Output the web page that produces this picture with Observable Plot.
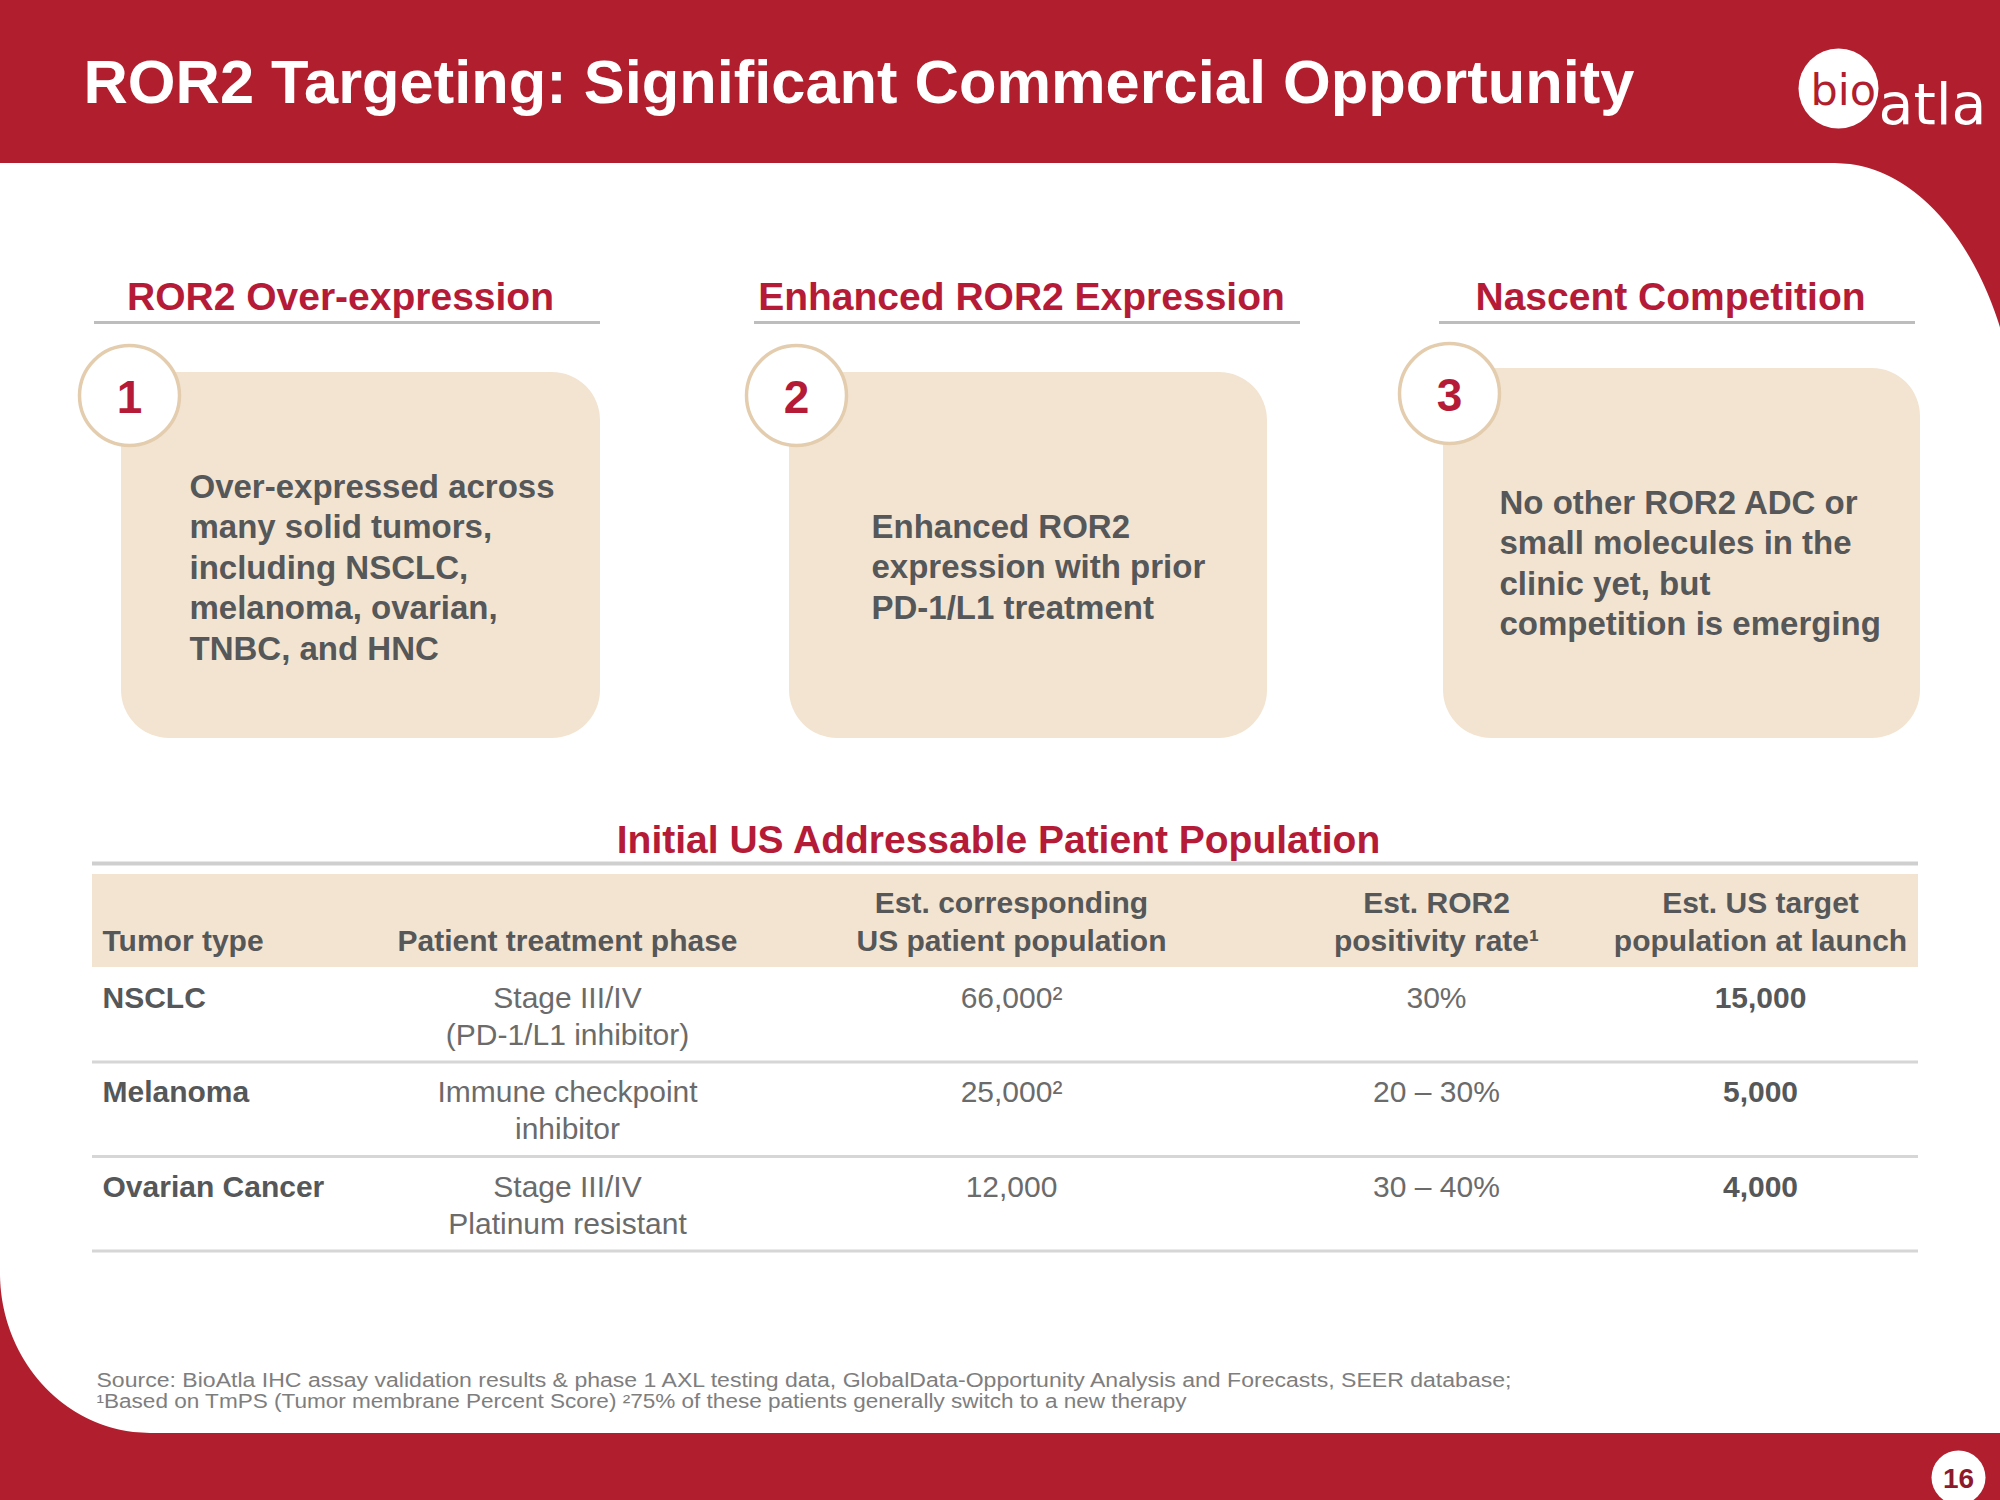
<!DOCTYPE html>
<html>
<head>
<meta charset="utf-8">
<script src="https://cdn.jsdelivr.net/npm/d3@7"></script>
<script src="https://cdn.jsdelivr.net/npm/@observablehq/plot@0.6"></script>
<style>
  html, body { margin: 0; padding: 0; background: #ffffff; }
  #chart svg { display: block; }
</style>
</head>
<body>
<div id="chart"></div>
<script>
// ---------------- DATA ----------------
const slideTitle = "ROR2 Targeting: Significant Commercial Opportunity";
const logoParts = ["bio", "atla"];
const pageNumber = "16";

const pillarHeaders = ["ROR2 Over-expression", "Enhanced ROR2 Expression", "Nascent Competition"];
const pillarNumbers = ["1", "2", "3"];
const pillarTexts = [
  ["Over-expressed across", "many solid tumors,", "including NSCLC,", "melanoma, ovarian,", "TNBC, and HNC"],
  ["Enhanced ROR2", "expression with prior", "PD-1/L1 treatment"],
  ["No other ROR2 ADC or", "small molecules in the", "clinic yet, but", "competition is emerging"]
];

const tableTitle = "Initial US Addressable Patient Population";
const columnHeaders = [
  ["Tumor type"],
  ["Patient treatment phase"],
  ["Est. corresponding", "US patient population"],
  ["Est. ROR2", "positivity rate\u00B9"],
  ["Est. US target", "population at launch"]
];
const tumorTypes = ["NSCLC", "Melanoma", "Ovarian Cancer"];
const treatmentPhases = [
  ["Stage III/IV", "(PD-1/L1 inhibitor)"],
  ["Immune checkpoint", "inhibitor"],
  ["Stage III/IV", "Platinum resistant"]
];
const usPatientPopulation = ["66,000\u00B2", "25,000\u00B2", "12,000"];
const ror2PositivityRate = ["30%", "20 \u2013 30%", "30 \u2013 40%"];
const usTargetPopulation = ["15,000", "5,000", "4,000"];

const footnoteLines = [
  "Source: BioAtla IHC assay validation results & phase 1 AXL testing data, GlobalData-Opportunity Analysis and Forecasts, SEER database;",
  "\u00B9Based on TmPS (Tumor membrane Percent Score) \u00B275% of these patients generally switch to a new therapy"
];

// ---------------- STYLE / LAYOUT ----------------
const W = 2000, H = 1500;
const RED = "#B11E2E";
const HEAD_RED = "#B51B37";
const BEIGE = "#F3E4D1";
const DARK = "#555759";
const BODY = "#6B6B6B";
const FONT = "'Liberation Sans', Arial, Helvetica, sans-serif";
const LOGO_FONT = "'DejaVu Sans', 'Liberation Sans', sans-serif";

const whiteTop = 163, whiteBottom = 1433;
function rightEdge(y) {
  const rx = 185, ry = 300, cx = 1835, cy = whiteTop + ry;
  if (y >= cy) return W;
  const t = (cy - y) / ry;
  return Math.min(W, cx + rx * Math.sqrt(Math.max(0, 1 - t * t)));
}
function leftEdge(y) {
  const rx = 150, ry = 160, cy = whiteBottom - ry;
  if (y <= cy) return 0;
  const t = (y - cy) / ry;
  return rx * (1 - Math.sqrt(Math.max(0, 1 - t * t)));
}
const framePts = d3.range(whiteTop, whiteBottom + 0.5, 1).map(y => ({y, x1: leftEdge(y), x2: rightEdge(y)}));

const pillarLayout = [
  {hx: 340,  ul: [94, 600],   bx: [121, 600],   top: 372, cx: 129,  cy: 395, tx: 189,  ty: 497},
  {hx: 1021, ul: [754, 1300], bx: [789, 1267],  top: 372, cx: 796,  cy: 395, tx: 871,  ty: 537},
  {hx: 1670, ul: [1439, 1915], bx: [1443, 1920], top: 368, cx: 1449, cy: 393, tx: 1499, ty: 513}
];
const boxBottom = 738, headerBaseline = 309, underlineY = 322, lineStep = 40.5;

const pillars = pillarHeaders.map((h, i) => ({header: h, number: pillarNumbers[i], ...pillarLayout[i]}));
const pillarLines = pillarTexts.flatMap((lines, i) =>
  lines.map((t, j) => ({text: t, x: pillarLayout[i].tx, y: pillarLayout[i].ty + j * lineStep})));

// table layout
const tblX1 = 92, tblX2 = 1918;
const titleY = 852, topRuleY = 863, bandTop = 874, bandBottom = 967;
const rowH = 94.5, firstLineOff = 40, secondLineOff = 37;
const colX = [102, 567, 1011, 1436, 1760];

const headerCells = columnHeaders.flatMap((lines, c) =>
  lines.map((t, j) => ({text: t, col: c, x: colX[c], y: 950 - (lines.length - 1 - j) * 38})));

const rowTops = tumorTypes.map((_, r) => bandBottom + r * rowH);
const bodyCells = [];
tumorTypes.forEach((tt, r) => {
  const base = rowTops[r] + firstLineOff;
  bodyCells.push({text: tt, col: 0, x: colX[0], y: base, bold: true});
  treatmentPhases[r].forEach((t, j) => bodyCells.push({text: t, col: 1, x: colX[1], y: base + j * secondLineOff, bold: false}));
  bodyCells.push({text: usPatientPopulation[r], col: 2, x: colX[2], y: base, bold: false});
  bodyCells.push({text: ror2PositivityRate[r], col: 3, x: colX[3], y: base, bold: false});
  bodyCells.push({text: usTargetPopulation[r], col: 4, x: colX[4], y: base, bold: true});
});
const separators = rowTops.map(t => ({y: t + rowH}));

const footnoteWidths = [1415, 1090];
const footnotes = footnoteLines.map((t, i) => ({text: t, x: 96, y: 1386 + i * 21}));

const txt = (data, o) => Plot.text(data, {lineAnchor: "bottom", fontFamily: FONT, ...o});

const chart = Plot.plot({
  width: W,
  height: H,
  margin: 0,
  x: {domain: [0, W], range: [0, W], axis: null},
  y: {domain: [0, H], range: [0, H], axis: null},
  style: {background: RED, fontFamily: FONT},
  marks: [
    // white content area with curved corners
    Plot.area(framePts, {x1: "x1", x2: "x2", y1: "y", y2: "y", fill: "#ffffff"}),

    // title & logo
    txt([slideTitle], {x: 83, y: 102, text: d => d, textAnchor: "start", fontSize: 61.4, fontWeight: "bold", fill: "#ffffff"}),
    Plot.dot([logoParts[0]], {x: 1838, y: 88, r: 40, fill: "#ffffff", stroke: "none"}),
    txt([logoParts[0]], {x: 1810, y: 104, text: d => d, textAnchor: "start", fontSize: 43, fontFamily: LOGO_FONT, fill: RED}),
    txt([logoParts[1]], {x: 1878, y: 123, text: d => d, textAnchor: "start", fontSize: 57, fontFamily: LOGO_FONT, fill: "#ffffff"}),

    // pillars
    txt(pillars, {x: "hx", y: () => headerBaseline, text: "header", textAnchor: "middle", fontSize: 39, fontWeight: "bold", fill: HEAD_RED}),
    Plot.ruleY(pillars, {y: () => underlineY, x1: d => d.ul[0], x2: d => d.ul[1], stroke: "#BDBDBD", strokeWidth: 3}),
    Plot.rect(pillars, {x1: d => d.bx[0], x2: d => d.bx[1], y1: "top", y2: () => boxBottom, rx: 48, ry: 48, fill: BEIGE}),
    Plot.dot(pillars, {x: "cx", y: "cy", r: 50, fill: "#ffffff", stroke: "#E4CDAE", strokeWidth: 3.5}),
    txt(pillars, {x: "cx", y: d => d.cy + 17, text: "number", textAnchor: "middle", fontSize: 46, fontWeight: "bold", fill: HEAD_RED}),
    txt(pillarLines, {x: "x", y: "y", text: "text", textAnchor: "start", fontSize: 33, fontWeight: "bold", fill: DARK}),

    // table
    txt([tableTitle], {x: 998, y: titleY, text: d => d, textAnchor: "middle", fontSize: 39, fontWeight: "bold", fill: HEAD_RED}),
    Plot.ruleY([topRuleY], {x1: tblX1, x2: tblX2, stroke: "#CFCFCF", strokeWidth: 4}),
    Plot.rect([0], {x1: tblX1, x2: tblX2, y1: bandTop, y2: bandBottom, fill: BEIGE}),
    txt(headerCells.filter(d => d.col === 0), {x: "x", y: "y", text: "text", textAnchor: "start", fontSize: 30, fontWeight: "bold", fill: DARK}),
    txt(headerCells.filter(d => d.col > 0), {x: "x", y: "y", text: "text", textAnchor: "middle", fontSize: 30, fontWeight: "bold", fill: DARK}),
    Plot.ruleY(separators, {y: "y", x1: tblX1, x2: tblX2, stroke: "#D6D6D6", strokeWidth: 3}),
    txt(bodyCells.filter(d => d.col === 0), {x: "x", y: "y", text: "text", textAnchor: "start", fontSize: 30, fontWeight: "bold", fill: DARK}),
    txt(bodyCells.filter(d => d.col > 0 && d.bold), {x: "x", y: "y", text: "text", textAnchor: "middle", fontSize: 30, fontWeight: "bold", fill: DARK}),
    txt(bodyCells.filter(d => d.col > 0 && !d.bold), {x: "x", y: "y", text: "text", textAnchor: "middle", fontSize: 30, fill: BODY}),

    // footnotes
    txt(footnotes, {x: "x", y: "y", text: "text", textAnchor: "start", fontSize: 19.5, fill: "#7E7E7E"}),

    // page number
    Plot.dot([pageNumber], {x: 1958, y: 1477, r: 27, fill: "#ffffff", stroke: "none"}),
    txt([pageNumber], {x: 1958, y: 1487, text: d => d, textAnchor: "middle", fontSize: 28, fontWeight: "bold", fill: "#8C1A2A"})
  ]
});

// stretch footnote lines horizontally to match the reference widths
d3.select(chart).selectAll("text").each(function () {
  const i = footnoteLines.indexOf(this.textContent);
  if (i >= 0) {
    this.setAttribute("textLength", footnoteWidths[i]);
    this.setAttribute("lengthAdjust", "spacingAndGlyphs");
  }
});

document.getElementById("chart").appendChild(chart);
</script>
</body>
</html>
